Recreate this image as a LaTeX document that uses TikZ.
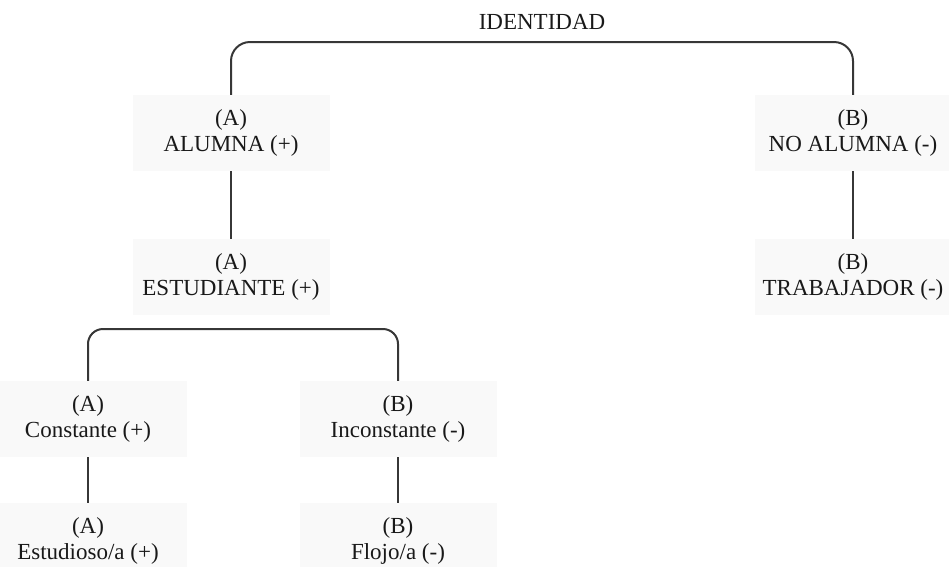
\documentclass[tikz,border=0pt]{standalone}
\usepackage{fontspec}
\setmainfont{Liberation Serif}
\usepackage{tikz}
\usetikzlibrary{positioning,calc}
\definecolor{idline}{RGB}{55,55,55}
\definecolor{idtext}{RGB}{25,25,25}
\definecolor{idfill}{RGB}{249,249,249}

\begin{document}
\begin{tikzpicture}[x=1pt, y=-1pt,
  term/.style={fill=idfill, minimum width=197pt, minimum height=76pt, inner sep=0pt, align=center, text=idtext, font=\fontsize{23}{26.5}\selectfont},
  link/.style={draw=idline, line width=2pt}]
  \useasboundingbox (0,0) rectangle (949,566);

  \node[text=idtext, font=\fontsize{23}{26.5}\selectfont] (identidad) at (542,22) {IDENTIDAD};
  \coordinate (split1) at (542,42);

  % rama A
  \node[term] (alumna) at (231,133) {(A)\\ALUMNA (+)};
  \node[term] (estudiante) at (231,277) {(A)\\ESTUDIANTE (+)};
  \coordinate (split2) at (243,329);
  \node[term] (constante) at (88,419) {(A)\\Constante (+)};
  \node[term] (inconstante) at (398,419) {(B)\\Inconstante (-)};
  \node[term] (estudioso) at (88,541) {(A)\\Estudioso/a (+)};
  \node[term] (flojo) at (398,541) {(B)\\Flojo/a (-)};

  % rama B
  \node[term] (noalumna) at (853,133) {(B)\\NO ALUMNA (-)};
  \node[term] (trabajador) at (853,277) {(B)\\TRABAJADOR (-)};

  % conectores
  \draw[link, rounded corners=19pt] (alumna.north) |- (split1) -| (noalumna.north);
  \draw[link] (alumna.south) -- (estudiante.north);
  \draw[link] (noalumna.south) -- (trabajador.north);
  \draw[link, rounded corners=15pt] (constante.north) |- (split2) -| (inconstante.north);
  \draw[link] (constante.south) -- (estudioso.north);
  \draw[link] (inconstante.south) -- (flojo.north);
\end{tikzpicture}
\end{document}
